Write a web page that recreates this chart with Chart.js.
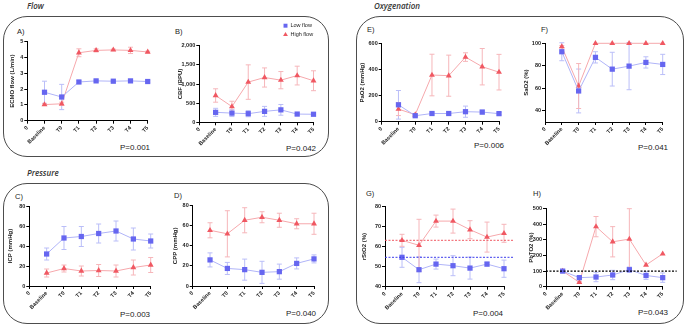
<!DOCTYPE html>
<html>
<head>
<meta charset="utf-8">
<script src="https://cdn.jsdelivr.net/npm/chart.js@4.4.1/dist/chart.umd.min.js"></script>
<style>
  body { margin: 0; width: 685px; height: 327px; position: relative; background: #fff; overflow: hidden;
         font-family: "Liberation Sans", Arial, sans-serif; color: #222; }
  .box { position: absolute; border: 1.5px solid #4d4d4d; border-radius: 24px; box-sizing: border-box; }
  .sec { position: absolute; font-family: "Open Sans", sans-serif; font-style: italic; font-weight: 600;
         font-size: 8px; line-height: 1; color: #333; }
  .lbl { position: absolute; font-size: 7.5px; line-height: 1; }
  .pv  { position: absolute; font-size: 8px; line-height: 1; }
  canvas { position: absolute; }
</style>
</head>
<body>
<div class="box" style="left:3px;top:16px;width:326px;height:141px"></div>
<div class="box" style="left:3px;top:183px;width:326px;height:141px"></div>
<div class="box" style="left:356px;top:16px;width:328px;height:308px"></div>

<div class="sec" style="left:27px;top:2px">Flow</div>
<div class="sec" style="left:374px;top:2px">Oxygenation</div>
<div class="sec" style="left:27px;top:169px">Pressure</div>

<div class="lbl" style="left:17px;top:28px">A)</div>
<div class="lbl" style="left:175px;top:28px">B)</div>
<div class="lbl" style="left:15px;top:193px">C)</div>
<div class="lbl" style="left:174px;top:192px">D)</div>
<div class="lbl" style="left:367px;top:26px">E)</div>
<div class="lbl" style="left:541px;top:26px">F)</div>
<div class="lbl" style="left:366px;top:190px">G)</div>
<div class="lbl" style="left:533px;top:190px">H)</div>

<div class="pv" style="left:120px;top:144px">P=0.001</div>
<div class="pv" style="left:286px;top:145px">P=0.042</div>
<div class="pv" style="left:120px;top:311px">P=0.003</div>
<div class="pv" style="left:286px;top:310px">P=0.040</div>
<div class="pv" style="left:474px;top:142px">P=0.006</div>
<div class="pv" style="left:638px;top:144px">P=0.041</div>
<div class="pv" style="left:473px;top:310px">P=0.004</div>
<div class="pv" style="left:638px;top:309px">P=0.043</div>

<script>
/* --------- データ --------- */
const timeLabels = ["0", "Baseline", "T0", "T1", "T2", "T3", "T4", "T5"];

const ecmoLow = [1.8, 1.5, 2.45, 2.52, 2.5, 2.52, 2.48];
const ecmoLowSd = [0.7, 0.8, 0.08, 0.05, 0.05, 0.05, 0.05];
const ecmoHigh = [1.02, 1.07, 4.3, 4.45, 4.48, 4.45, 4.35];
const ecmoHighSd = [0.05, 0.1, 0.25, 0.1, 0.05, 0.2, 0.05];
const ecmoTicks = [0, 1, 2, 3, 4, 5];

const cbfLow = [260, 240, 225, 285, 325, 215, 210];
const cbfLowSd = [105, 90, 80, 130, 140, 25, 20];
const cbfHigh = [700, 410, 1050, 1170, 1100, 1220, 1085];
const cbfHighSd = [175, 140, 450, 250, 225, 245, 260];
const cbfTicks = [0, 500, 1000, 1500, 2000];

const icpLow = [32, 48, 49.5, 52.5, 55, 47, 45];
const icpLowSd = [6, 11.5, 10, 9.5, 10, 11, 7];
const icpHigh = [13, 17.5, 15, 15.5, 15, 18.5, 21];
const icpHighSd = [4, 3.5, 5, 6, 6, 7.5, 7.5];
const icpTicks = [0, 20, 40, 60, 80];

const cppLow = [26, 17.5, 16.3, 13.6, 14.3, 22.5, 27];
const cppLowSd = [7, 6, 10.5, 11, 7.5, 5.5, 4];
const cppHigh = [55.5, 52, 65.5, 68.5, 65.5, 62, 62];
const cppHighSd = [7.5, 23, 12.5, 5.5, 7, 5, 10.5];
const cppTicks = [0, 20, 40, 60, 80];

const pao2Low = [130, 46, 63, 63, 77, 74, 62];
const pao2LowSd = [110, 10, 10, 10, 43, 15, 10];
const pao2High = [97, 54, 359, 354, 497, 423, 381];
const pao2HighSd = [50, 8, 160, 158, 33, 140, 137];
const pao2Ticks = [0, 200, 400, 600];

const sao2Low = [92.5, 57.6, 87.5, 77, 79.7, 83, 81.2];
const sao2LowSd = [8, 19.5, 5, 15, 21, 5, 9];
const sao2High = [97, 62, 100, 100, 100, 100, 100];
const sao2HighSd = [1, 20, 0, 0, 0, 0, 0];
const sao2Ticks = [40, 60, 80, 100];

const rso2Low = [54.7, 48.5, 51.3, 50.5, 49.3, 51.3, 49];
const rso2LowSd = [5, 6.5, 2.5, 5, 5.5, 1, 4.3];
const rso2High = [63.2, 60.7, 72.8, 72.8, 68.5, 64.8, 66.7];
const rso2HighSd = [3, 13, 3, 6, 4.5, 7.5, 4.5];
const rso2Ticks = [40, 50, 60, 70, 80];

const pbto2Low = [100, 58, 62, 75, 109, 72, 58];
const pbto2LowSd = [5, 10, 30, 30, 17, 25, 30];
const pbto2High = [100, 28, 385, 288, 305, 139, 211];
const pbto2HighSd = [5, 5, 65, 97, 195, 0, 0];
const pbto2Ticks = [0, 100, 200, 300, 400, 500];
const pbto2Ref = [100];

/* --------- 色 --------- */
const lowColor = "rgb(102,102,240)";
const lowLine = "rgb(176,180,248)";
const lowErr = "rgb(186,190,248)";
const highColor = "rgb(240,88,98)";
const highLine = "rgb(246,168,172)";
const highErr = "rgb(246,182,186)";
const FONT = "'Liberation Sans', Arial, sans-serif";

/* --------- プラグイン --------- */
// エラーバー（平均 ± SD）
const errorBars = {
  id: "errorBars",
  beforeDatasetsDraw(chart) {
    const { ctx, scales } = chart;
    chart.data.datasets.forEach((ds, di) => {
      if (!ds.errors) return;
      const meta = chart.getDatasetMeta(di);
      ctx.save();
      ctx.strokeStyle = ds.errColor;
      ctx.lineWidth = 1;
      ds.data.forEach((v, i) => {
        const e = ds.errors[i];
        if (v == null || !e) return;
        const x = meta.data[i].x;
        const y1 = scales.y.getPixelForValue(v + e);
        const y2 = scales.y.getPixelForValue(v - e);
        ctx.beginPath();
        ctx.moveTo(x, y1); ctx.lineTo(x, y2);
        ctx.moveTo(x - 2.5, y1); ctx.lineTo(x + 2.5, y1);
        ctx.moveTo(x - 2.5, y2); ctx.lineTo(x + 2.5, y2);
        ctx.stroke();
      });
      ctx.restore();
    });
  },
};

// 破線の基準線
const refLines = {
  id: "refLines",
  afterDatasetsDraw(chart, args, opts) {
    if (!opts.lines) return;
    const { ctx, chartArea, scales } = chart;
    opts.lines.forEach((l) => {
      const y = scales.y.getPixelForValue(l.value);
      ctx.save();
      ctx.strokeStyle = l.color;
      ctx.lineWidth = l.width || 1;
      ctx.setLineDash([2, 1.5]);
      ctx.beginPath();
      ctx.moveTo(chartArea.left, y);
      ctx.lineTo(chartArea.right + opts.ext, y);
      ctx.stroke();
      ctx.restore();
    });
  },
};

// 凡例（B のみ）
const miniLegend = {
  id: "miniLegend",
  afterDraw(chart, args, opts) {
    if (!opts.show) return;
    const { ctx, chartArea } = chart;
    const x = chartArea.right - 28;
    const rows = [
      { text: "Low flow", style: "rect", color: lowColor, dy: -20 },
      { text: "High flow", style: "triangle", color: highColor, dy: -11 },
    ];
    rows.forEach((r) => {
      const y = chartArea.top + r.dy;
      ctx.save();
      ctx.fillStyle = r.color;
      Chart.helpers.drawPoint(ctx, { pointStyle: r.style, radius: 2.8, rotation: 0, borderWidth: 0 }, x, y);
      ctx.fillStyle = "#222";
      ctx.font = "5.5px " + FONT;
      ctx.textBaseline = "middle";
      ctx.fillText(r.text, x + 5, y);
      ctx.restore();
    });
  },
};

/* --------- ヘルパー --------- */
function makeDataset(label, values, sd, color, line, err, style, radius) {
  return {
    label,
    data: [null, ...values],
    errors: [0, ...sd],
    errColor: err,
    borderColor: line,
    backgroundColor: color,
    borderWidth: 1,
    pointStyle: style,
    pointRadius: radius,
    pointBorderWidth: 0,
    pointBackgroundColor: color,
    tension: 0,
    clip: false,
  };
}

function axisStyle() {
  return {
    grid: { display: true, drawOnChartArea: false, drawTicks: true, tickLength: 3, color: "#000", lineWidth: 1 },
    border: { display: true, color: "#000", width: 1 },
  };
}

function makePanel(p) {
  const cx = Math.round(p.L - (p.L - p.titleX + 3.6));
  const cy = Math.round(p.T - (p.padTop || 8));
  const yW = p.L - cx;
  const top = p.T - cy;
  const cw = Math.round(p.R - cx + 18);
  const ch = Math.round(p.B - cy + 30);
  const xH = cy + ch - p.B;

  const canvas = document.createElement("canvas");
  canvas.width = cw;
  canvas.height = ch;
  canvas.style.left = cx + "px";
  canvas.style.top = cy + "px";
  document.body.appendChild(canvas);

  new Chart(canvas, {
    type: "line",
    data: {
      labels: timeLabels,
      datasets: [
        makeDataset("Low flow", p.low, p.lowSd, lowColor, lowLine, lowErr, "rect", 3.7),
        makeDataset("High flow", p.high, p.highSd, highColor, highLine, highErr, "triangle", 3.4),
      ],
    },
    options: {
      responsive: false,
      animation: false,
      devicePixelRatio: 1,
      layout: { padding: { left: 0, top, right: cw - (p.R - cx), bottom: 0 } },
      plugins: {
        legend: { display: false },
        tooltip: { enabled: false },
        refLines: { lines: p.refs, ext: p.ext || 0 },
        miniLegend: { show: !!p.legend },
      },
      scales: {
        x: {
          type: "category",
          offset: false,
          ...axisStyle(),
          ticks: {
            autoSkip: false, minRotation: 45, maxRotation: 45, padding: 1, color: "#222",
            font: { size: 5.5, weight: "bold", family: FONT },
          },
          afterFit(s) { s.height = xH; },
        },
        y: {
          type: "linear",
          min: p.min,
          max: p.max,
          ...axisStyle(),
          afterBuildTicks(s) { s.ticks = p.ticks.map((v) => ({ value: v })); },
          ticks: { padding: 1, color: "#222", font: { size: 5.5, weight: "bold", family: FONT } },
          title: {
            display: true, text: p.title, padding: 0, color: "#222",
            font: { size: 6, weight: "bold", family: FONT },
          },
          afterFit(s) { s.width = yW; },
        },
      },
    },
    plugins: [errorBars, refLines, miniLegend],
  });
}

/* --------- 各パネル --------- */
const panels = [
  { title: "ECMO flow (L/min)", low: ecmoLow, lowSd: ecmoLowSd, high: ecmoHigh, highSd: ecmoHighSd,
    ticks: ecmoTicks, min: 0, max: 5, L: 27.3, R: 147.7, T: 41.7, B: 120.7, titleX: 12.3 },
  { title: "CBF (BPU)", low: cbfLow, lowSd: cbfLowSd, high: cbfHigh, highSd: cbfHighSd,
    ticks: cbfTicks, min: 0, max: 2000, L: 199.3, R: 313.5, T: 45.7, B: 122.3, titleX: 180.7,
    padTop: 26, legend: true },
  { title: "ICP (mmHg)", low: icpLow, lowSd: icpLowSd, high: icpHigh, highSd: icpHighSd,
    ticks: icpTicks, min: 0, max: 80, L: 29.3, R: 150.7, T: 206, B: 286, titleX: 11 },
  { title: "CPP (mmHg)", low: cppLow, lowSd: cppLowSd, high: cppHigh, highSd: cppHighSd,
    ticks: cppTicks, min: 0, max: 80, L: 192.7, R: 314, T: 205.7, B: 286, titleX: 176 },
  { title: "PaO2 (mmHg)", low: pao2Low, lowSd: pao2LowSd, high: pao2High, highSd: pao2HighSd,
    ticks: pao2Ticks, min: 0, max: 600, L: 381.7, R: 499, T: 43.7, B: 121.7, titleX: 362.3 },
  { title: "SaO2 (%)", low: sao2Low, lowSd: sao2LowSd, high: sao2High, highSd: sao2HighSd,
    ticks: sao2Ticks, min: 30, max: 100, L: 545, R: 662.7, T: 43.3, B: 122, titleX: 526.7 },
  { title: "rStO2 (%)", low: rso2Low, lowSd: rso2LowSd, high: rso2High, highSd: rso2HighSd,
    ticks: rso2Ticks, min: 40, max: 80, L: 385, R: 504, T: 206.7, B: 286.7, titleX: 365,
    refs: [{ value: rso2High[0], color: "rgb(240,88,98)" }, { value: rso2Low[0], color: "rgb(60,60,235)" }], ext: 10 },
  { title: "PbTO2 (%)", low: pbto2Low, lowSd: pbto2LowSd, high: pbto2High, highSd: pbto2HighSd,
    ticks: pbto2Ticks, min: 0, max: 500, L: 546, R: 662.7, T: 208.7, B: 286.7, titleX: 531.7,
    refs: [{ value: pbto2Ref[0], color: "#000", width: 1.2 }], ext: 14 },
];

panels.forEach(makePanel);
</script>
</body>
</html>
